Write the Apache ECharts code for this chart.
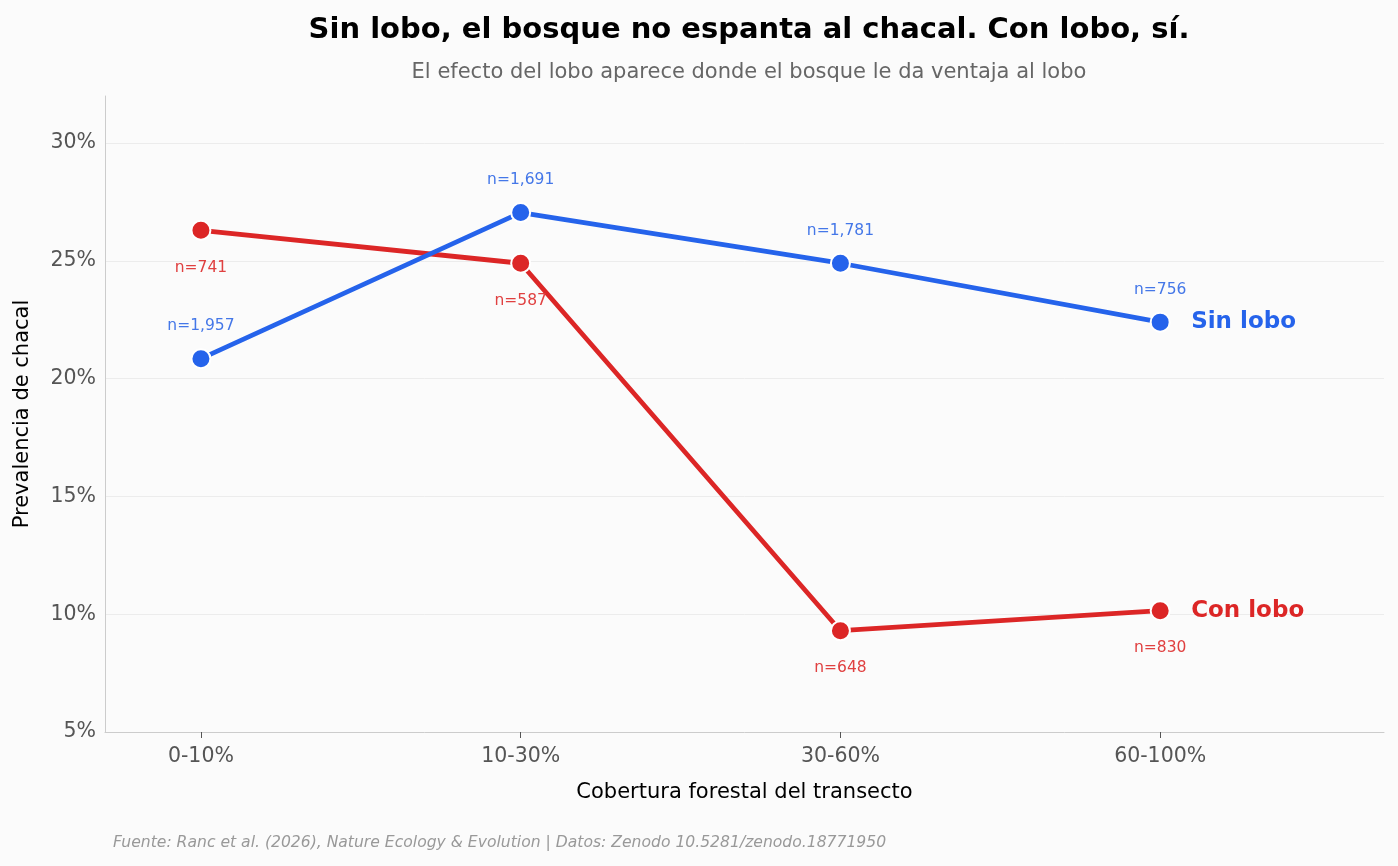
<!DOCTYPE html>
<html>
<head>
<meta charset="utf-8">
<script src="https://cdn.jsdelivr.net/npm/echarts@6/dist/echarts.min.js"></script>
<style>
  html, body { margin: 0; padding: 0; background: #fbfbfb; }
  #chart { width: 1398px; height: 866px; }
</style>
</head>
<body>
<div id="chart"></div>
<script>
const categories = ['0-10%', '10-30%', '30-60%', '60-100%']
const sinLobo = [20.85, 27.05, 24.9, 22.4]
const conLobo = [26.3, 24.9, 9.3, 10.15]
const nSinLobo = ['1,957', '1,691', '1,781', '756']
const nConLobo = ['741', '587', '648', '830']
const yTicks = [5, 10, 15, 20, 25, 30]

const FONT = 'DejaVu Sans'
const BLUE = '#2563eb'
const RED = '#dc2626'

const chart = echarts.init(document.getElementById('chart'))

// serie como pares [indice, valor] sobre un eje numerico
const toPairs = (arr) => arr.map((v, i) => [i, v])

const makeSeries = (name, values, nList, color, labelColor, above) => ({
  name,
  type: 'line',
  data: toPairs(values),
  symbol: 'circle',
  symbolSize: 19,
  lineStyle: { color, width: 4.8 },
  itemStyle: { color, borderColor: '#ffffff', borderWidth: 2 },
  label: {
    show: true,
    position: above ? 'top' : 'bottom',
    distance: above ? 14 : 19,
    formatter: (p) => 'n=' + nList[p.dataIndex],
    color: labelColor,
    fontSize: 15.5,
    fontFamily: FONT,
  },
  endLabel: {
    show: true,
    formatter: '{a}',
    color,
    fontSize: 23,
    fontWeight: 'bold',
    fontFamily: FONT,
    distance: 31,
  },
  emphasis: { disabled: true },
  animation: false,
  z: above ? 3 : 2,
})

const options = {
  backgroundColor: '#fbfbfb',
  title: [
    {
      text: 'Sin lobo, el bosque no espanta al chacal. Con lobo, sí.',
      left: 744,
      top: 11,
      textAlign: 'center',
      textStyle: { fontSize: 29, fontWeight: 'bold', color: '#000', fontFamily: FONT },
    },
    {
      text: 'El efecto del lobo aparece donde el bosque le da ventaja al lobo',
      left: 744,
      top: 57,
      textAlign: 'center',
      textStyle: { fontSize: 21, fontWeight: 'normal', color: '#666', fontFamily: FONT },
    },
    {
      text: 'Fuente: Ranc et al. (2026), Nature Ecology & Evolution | Datos: Zenodo 10.5281/zenodo.18771950',
      left: 108,
      top: 830,
      textStyle: { fontSize: 15.6, fontWeight: 'normal', fontStyle: 'italic', color: '#999', fontFamily: FONT },
    },
  ],
  grid: { left: 105, right: 14, top: 96, bottom: 134 },
  xAxis: {
    type: 'value',
    min: -0.3,
    max: 3.7,
    name: 'Cobertura forestal del transecto',
    nameLocation: 'middle',
    nameGap: 50,
    nameTextStyle: { fontSize: 21, color: '#000', fontFamily: FONT },
    axisLine: { show: true, onZero: false, lineStyle: { color: '#cccccc', width: 1 } },
    axisTick: { show: true, customValues: [0, 1, 2, 3], length: 6, lineStyle: { color: '#555' } },
    axisLabel: {
      customValues: [0, 1, 2, 3],
      formatter: (v) => categories[Math.round(v)] || '',
      fontSize: 20.5,
      color: '#555',
      margin: 14,
      fontFamily: FONT,
    },
    splitLine: { show: false },
  },
  yAxis: {
    type: 'value',
    min: 5,
    max: 32,
    interval: 5,
    name: 'Prevalencia de chacal',
    nameLocation: 'middle',
    nameGap: 72,
    nameTextStyle: { fontSize: 21, color: '#000', fontFamily: FONT },
    axisLine: { show: true, onZero: false, lineStyle: { color: '#cccccc', width: 1 } },
    axisTick: { show: false },
    axisLabel: {
      formatter: (v) => (yTicks.includes(v) ? v + '%' : ''),
      showMaxLabel: false,
      fontSize: 20.5,
      color: '#555',
      margin: 9,
      padding: [4, 0, 0, 0],
      fontFamily: FONT,
    },
    splitLine: {
      show: true,
      showMinLine: false,
      showMaxLine: false,
      lineStyle: { color: '#ececec', width: 1 },
    },
  },
  series: [
    makeSeries('Sin lobo', sinLobo, nSinLobo, BLUE, '#4477e8', true),
    makeSeries('Con lobo', conLobo, nConLobo, RED, '#e04040', false),
  ],
}

chart.setOption(options, true)
</script>
</body>
</html>
